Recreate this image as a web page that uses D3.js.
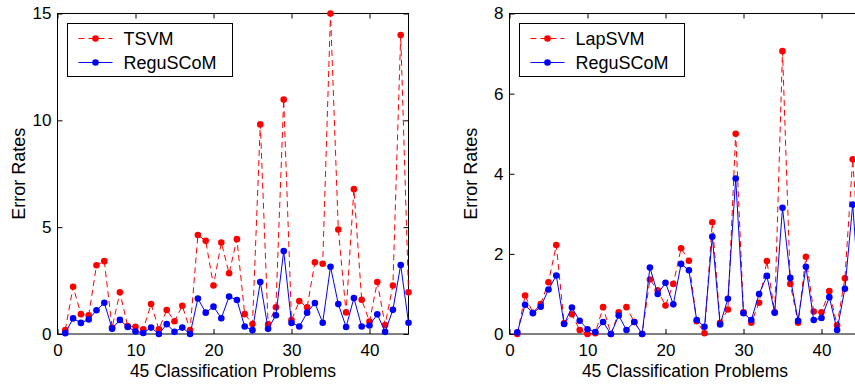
<!DOCTYPE html>
<html>
<head>
<meta charset="utf-8">
<script src="https://cdn.jsdelivr.net/npm/d3@7"></script>
<style>
  body { margin: 0; background: #fff; }
  svg text { font-family: "Liberation Sans", Arial, sans-serif; fill: #000; }
</style>
</head>
<body>
<div id="chart"></div>
<script>
// problem index on the x axis
const problems = [1,2,3,4,5,6,7,8,9,10,11,12,13,14,15,16,17,18,19,20,21,22,23,24,25,
  26,27,28,29,30,31,32,33,34,35,36,37,38,39,40,41,42,43,44,45];

const tsvm = [0.19, 2.21, 0.93, 0.87, 3.22, 3.41, 0.3, 1.95, 0.37, 0.34, 0.22, 1.40, 0.22, 1.12, 0.6,
  1.32, 0.19, 4.63, 4.36, 2.27, 4.28, 2.84, 4.44, 0.93, 0.47, 9.81, 0.45, 1.25, 10.97, 0.65,
  1.54, 1.25, 3.36, 3.29, 15.0, 4.89, 1.01, 6.78, 1.6, 0.58, 2.43, 0.42, 2.27, 13.99, 1.95];

const lapsvm = [0, 0.96, 0.53, 0.75, 1.29, 2.22, 0.27, 0.49, 0.1, 0, 0.02, 0.67, 0, 0.54, 0.67,
  0.3, 0, 1.36, 1.09, 0.71, 1.25, 2.14, 1.83, 0.32, 0.02, 2.79, 0.28, 0.61, 5.0, 0.54,
  0.28, 0.78, 1.82, 0.54, 7.06, 1.25, 0.28, 1.93, 0.56, 0.54, 1.07, 0.22, 1.39, 4.36, 1.5];

const regu = [0.04, 0.73, 0.52, 0.68, 1.11, 1.46, 0.25, 0.66, 0.33, 0.12, 0.05, 0.3, 0, 0.46, 0.1,
  0.3, 0, 1.66, 1.0, 1.28, 0.74, 1.75, 1.59, 0.35, 0.18, 2.43, 0.24, 0.88, 3.88, 0.52,
  0.35, 1.0, 1.45, 0.53, 3.15, 1.4, 0.33, 1.68, 0.35, 0.4, 0.92, 0.1, 1.13, 3.23, 0.53];

const xTicks = [0, 10, 20, 30, 40];
const leftYTicks = [0, 5, 10, 15];
const rightYTicks = [0, 2, 4, 6, 8];

const W = 855, H = 385;

const svg = d3.select("#chart").append("svg")
  .attr("width", W)
  .attr("height", H);

function drawPanel(left, yMax, yTicks, baseName, baseVals) {
  const top = 13.5, bottom = 334, plotW = 351;
  const x = d3.scaleLinear().domain([0, 45]).range([0, plotW]);
  const y = d3.scaleLinear().domain([0, yMax]).range([bottom - top, 0]);

  const g = svg.append("g").attr("transform", "translate(" + left + "," + top + ")");
  const h = bottom - top;

  // ticks, pointing inwards like matlab
  g.append("g")
    .attr("transform", "translate(0," + h + ")")
    .call(d3.axisBottom(x).tickValues(xTicks).tickSize(-5).tickPadding(10))
    .call(a => a.select(".domain").remove());
  g.append("g")
    .call(d3.axisTop(x).tickValues(xTicks).tickSize(-5).tickFormat(""))
    .call(a => a.select(".domain").remove());
  g.append("g")
    .call(d3.axisLeft(y).tickValues(yTicks).tickSize(-5).tickPadding(6))
    .call(a => a.select(".domain").remove());
  g.append("g")
    .attr("transform", "translate(" + plotW + ",0)")
    .call(d3.axisRight(y).tickValues(yTicks).tickSize(-5).tickFormat(""))
    .call(a => a.select(".domain").remove());

  g.selectAll(".tick text").attr("font-size", 17).style("font-family", '"Liberation Sans", Arial, sans-serif');
  g.selectAll(".tick line").attr("stroke", "#000");

  g.append("rect")
    .attr("width", plotW).attr("height", h)
    .attr("fill", "none").attr("stroke", "#000").attr("stroke-width", 1);

  const line = d3.line()
    .x((d, i) => x(problems[i]))
    .y(d => y(d));

  // red dashed series
  g.append("path")
    .datum(baseVals)
    .attr("d", line)
    .attr("fill", "none")
    .attr("stroke", "#ff0000")
    .attr("stroke-width", 1)
    .attr("stroke-dasharray", "6,4");
  g.append("g").selectAll("circle")
    .data(baseVals).enter()
    .append("circle")
    .attr("cx", (d, i) => x(problems[i]))
    .attr("cy", d => y(d))
    .attr("r", 3.3)
    .attr("fill", "#ff0000");

  // blue solid series
  g.append("path")
    .datum(regu)
    .attr("d", line)
    .attr("fill", "none")
    .attr("stroke", "#0000ff")
    .attr("stroke-width", 1);
  g.append("g").selectAll("circle")
    .data(regu).enter()
    .append("circle")
    .attr("cx", (d, i) => x(problems[i]))
    .attr("cy", d => y(d))
    .attr("r", 3.3)
    .attr("fill", "#0000ff");

  // legend
  const lg = g.append("g").attr("transform", "translate(10,10)");
  lg.append("rect")
    .attr("width", 165).attr("height", 53)
    .attr("fill", "#fff").attr("stroke", "#000").attr("stroke-width", 1);
  const items = [
    { name: baseName, color: "#ff0000", dash: "6,4", yy: 15 },
    { name: "ReguSCoM", color: "#0000ff", dash: null, yy: 39 }
  ];
  items.forEach(it => {
    lg.append("line")
      .attr("x1", 11).attr("x2", 45).attr("y1", it.yy).attr("y2", it.yy)
      .attr("stroke", it.color).attr("stroke-width", 1)
      .attr("stroke-dasharray", it.dash);
    lg.append("circle")
      .attr("cx", 28).attr("cy", it.yy).attr("r", 3.3).attr("fill", it.color);
    lg.append("text")
      .attr("x", 56).attr("y", it.yy + 6)
      .attr("font-size", 18)
      .text(it.name);
  });

  // axis titles
  g.append("text")
    .attr("x", plotW / 2).attr("y", h + 43)
    .attr("text-anchor", "middle")
    .attr("font-size", 17.5)
    .text("45 Classification Problems");
  g.append("text")
    .attr("transform", "translate(-33," + (h / 2) + ") rotate(-90)")
    .attr("text-anchor", "middle")
    .attr("font-size", 18)
    .text("Error Rates");
}

drawPanel(57.5, 15, leftYTicks, "TSVM", tsvm);
drawPanel(509.5, 8, rightYTicks, "LapSVM", lapsvm);
</script>
</body>
</html>
